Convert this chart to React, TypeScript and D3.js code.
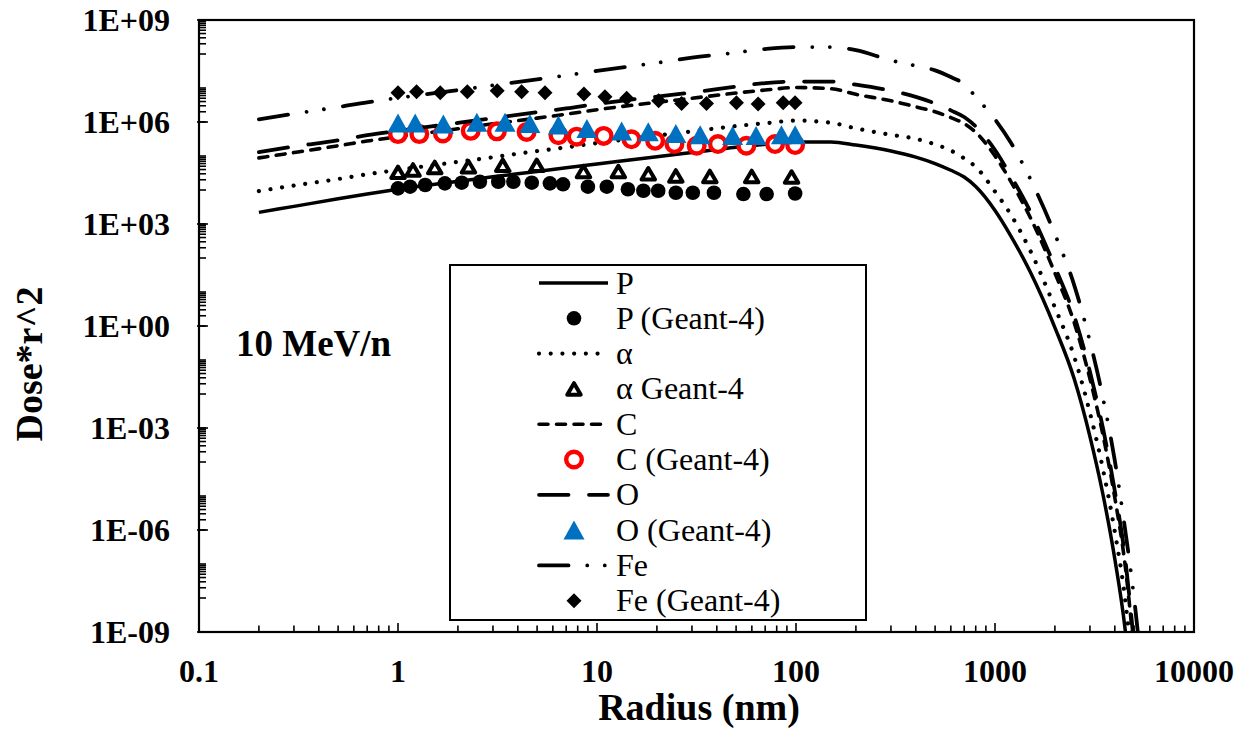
import React from 'react';
import * as d3 from 'd3';

// model curves, shared radius grid (nm)
const lineRadius = [0.2, 0.3, 0.5, 0.7, 1, 2, 3, 5, 7, 10, 20, 30, 50, 70, 100, 150, 200, 300, 400, 500, 600, 700, 800, 1000, 1200, 1500, 2000, 2500, 3000, 3500, 4000, 4500, 5000, 5500];
const pLine = [2.2e3, 3.3e3, 5.5e3, 7.6e3, 1.05e4, 1.8e4, 2.45e4, 3.5e4, 4.5e4, 5.8e4, 9.5e4, 1.26e5, 1.8e5, 2.2e5, 2.6e5, 2.6e5, 2.1e5, 1.4e5, 9.3e4, 6.0e4, 3.8e4, 2.4e4, 1.26e4, 2.5e3, 450, 40, 0.9, 2.8e-2, 5.6e-4, 1e-5, 1.4e-7, 1.3e-9, 2.5e-12, 3e-15];
const alphaLine = [9.3e3, 1.35e4, 2.1e4, 2.9e4, 3.9e4, 6.7e4, 9.2e4, 1.4e5, 1.8e5, 2.4e5, 4.0e5, 5.3e5, 7.6e5, 9.2e5, 1.1e6, 9.5e5, 6.5e5, 4.2e5, 3.2e5, 2.2e5, 1.45e5, 8.5e4, 4.8e4, 9e3, 1.9e3, 1.7e2, 3.5, 0.126, 2.8e-3, 5.6e-5, 8.9e-7, 1e-8, 2.5e-11, 3e-14];
const cLine = [8.8e4, 1.26e5, 2.0e5, 2.75e5, 3.7e5, 6.3e5, 8.9e5, 1.3e6, 1.7e6, 2.3e6, 3.8e6, 5.0e6, 7.1e6, 8.7e6, 1.03e7, 9.5e6, 6.5e6, 4.2e6, 2.8e6, 2.0e6, 1.35e6, 9.0e5, 5.0e5, 1.0e5, 1.8e4, 1.6e3, 36, 1.26, 0.028, 5.6e-4, 8.9e-6, 1e-7, 2.5e-10, 3e-13];
const oLine = [1.3e5, 1.9e5, 2.9e5, 4.1e5, 5.5e5, 9.4e5, 1.3e6, 1.95e6, 2.5e6, 3.4e6, 5.6e6, 7.4e6, 1.1e7, 1.4e7, 1.55e7, 1.55e7, 1.25e7, 8.3e6, 5.5e6, 3.5e6, 2.2e6, 1.4e6, 7.4e5, 1.5e5, 2.6e4, 2.4e3, 55, 2.0, 0.045, 8.9e-4, 1.4e-5, 1.6e-7, 4e-10, 5e-13];
const feLine = [1.2e6, 1.75e6, 2.75e6, 3.8e6, 5.1e6, 8.7e6, 1.2e7, 1.8e7, 2.35e7, 3.2e7, 5.5e7, 7.8e7, 1.1e8, 1.4e8, 1.6e8, 1.6e8, 1.3e8, 6.5e7, 4.5e7, 3.3e7, 2.1e7, 1.3e7, 5.5e6, 1.2e6, 2.5e5, 2.2e4, 5.0e2, 16, 0.35, 7e-3, 1.1e-4, 1.1e-6, 1e-8, 5e-11];

// Geant-4 points
const pG4Radius = [1.0, 1.15, 1.37, 1.72, 2.09, 2.58, 3.19, 3.8, 4.7, 5.8, 6.75, 9.0, 11.2, 14.3, 17.1, 20.3, 24.9, 30.3, 38.7, 54.4, 71.2, 99];
const pG4Dose = [1.12e4, 1.25e4, 1.4e4, 1.57e4, 1.64e4, 1.75e4, 1.75e4, 1.75e4, 1.64e4, 1.57e4, 1.47e4, 1.25e4, 1.25e4, 1.05e4, 9.5e3, 9.5e3, 8.3e3, 8.3e3, 8.3e3, 7.6e3, 7.6e3, 7.9e3];
const alphaG4Radius = [1.0, 1.19, 1.53, 2.26, 3.36, 4.98, 8.55, 12.8, 18.1, 24.9, 36.9, 59.9, 95];
const alphaG4Dose = [3.3e4, 3.9e4, 4.6e4, 4.8e4, 5.3e4, 5.3e4, 3.5e4, 3.5e4, 3.0e4, 2.6e4, 2.5e4, 2.5e4, 2.4e4];
const cG4Radius = [1.0, 1.28, 1.68, 2.32, 3.14, 4.43, 6.4, 7.9, 10.8, 14.9, 19.6, 24.5, 31.7, 40.5, 56.3, 78.5, 99];
const cG4Dose = [4.4e5, 4.4e5, 4.6e5, 5.5e5, 5.3e5, 5.1e5, 4.1e5, 3.7e5, 3.9e5, 3.1e5, 2.8e5, 2.25e5, 2.0e5, 2.25e5, 2.0e5, 2.25e5, 2.1e5];
const oG4Radius = [1.0, 1.22, 1.69, 2.49, 3.45, 4.6, 6.4, 8.9, 13.3, 18.1, 24.9, 33, 48, 63, 84.5, 99];
const oG4Dose = [9.4e5, 9.4e5, 8.8e5, 9.8e5, 9.8e5, 9.1e5, 8.1e5, 6.4e5, 5.4e5, 5.2e5, 4.6e5, 4.2e5, 4.0e5, 4.0e5, 4.2e5, 4.2e5];
const feG4Radius = [1.0, 1.24, 1.63, 2.23, 3.15, 4.18, 5.48, 8.6, 10.96, 14.1, 20.4, 26.6, 35.5, 50.2, 64.5, 86.2, 98.9];
const feG4Dose = [7.3e6, 7.8e6, 7.3e6, 7.8e6, 8.3e6, 7.8e6, 7.3e6, 6.7e6, 5.5e6, 5.0e6, 4.2e6, 3.5e6, 3.5e6, 3.7e6, 3.4e6, 3.7e6, 3.7e6];

const xTickValues = [0.1, 1, 10, 100, 1000, 10000];
const xTickLabels = ['0.1', '1', '10', '100', '1000', '10000'];
const yTickValues = [1e9, 1e6, 1e3, 1, 1e-3, 1e-6, 1e-9];
const yTickLabels = ['1E+09', '1E+06', '1E+03', '1E+00', '1E-03', '1E-06', '1E-09'];
const legendLabels = ['P', 'P (Geant-4)', 'α', 'α Geant-4', 'C', 'C (Geant-4)', 'O', 'O (Geant-4)', 'Fe', 'Fe (Geant-4)'];

const FONT = "'Times New Roman', 'Liberation Serif', serif";
const L = 199, R = 1194, T = 20, B = 632;

type Pt = [number, number];
const zip = (r: number[], v: number[]): Pt[] => r.map((d, i) => [d, v[i]]);

const lineStyles = [
  { dash: undefined, width: 3.5 },
  { dash: '0.01 11.7', width: 4.2 },
  { dash: '9 8.5', width: 3.6 },
  { dash: '29.5 20.5', width: 3.8 },
  { dash: '29.5 18.75 0.01 17.5 0.01 19.25', width: 3.8 },
];

function Marker({ kind, cx, cy }: { kind: string; cx: number; cy: number }) {
  if (kind === 'dot') return <circle cx={cx} cy={cy} r={7.3} fill="#000" />;
  if (kind === 'openTri') {
    const w = 13.5, h = 11.5;
    return <path d={`M${cx},${cy - h / 2}L${cx + w / 2},${cy + h / 2}L${cx - w / 2},${cy + h / 2}Z`} fill="#fff" stroke="#000" strokeWidth={4} strokeLinejoin="round" />;
  }
  if (kind === 'ring') return <circle cx={cx} cy={cy} r={7.8} fill="#fff" stroke="#FF0000" strokeWidth={4.4} />;
  if (kind === 'blueTri') {
    const w = 21, h = 19;
    return <path d={`M${cx},${cy - h / 2}L${cx + w / 2},${cy + h / 2}L${cx - w / 2},${cy + h / 2}Z`} fill="#0070C0" />;
  }
  const s = 7.5;
  return <path d={`M${cx},${cy - s}L${cx + s},${cy}L${cx},${cy + s}L${cx - s},${cy}Z`} fill="#000" />;
}

export default function App() {
  const x = d3.scaleLog().domain([0.1, 10000]).range([L, R]);
  const y = d3.scaleLog().domain([1e-9, 1e9]).range([B, T]);

  const line = d3.line<Pt>()
    .x(d => x(d[0]))
    .y(d => y(d[1]))
    .curve(d3.curveMonotoneX);

  const curves = [pLine, alphaLine, cLine, oLine, feLine].map(v => zip(lineRadius, v));
  const points = [
    { kind: 'dot', data: zip(pG4Radius, pG4Dose) },
    { kind: 'openTri', data: zip(alphaG4Radius, alphaG4Dose) },
    { kind: 'ring', data: zip(cG4Radius, cG4Dose) },
    { kind: 'blueTri', data: zip(oG4Radius, oG4Dose) },
    { kind: 'diamond', data: zip(feG4Radius, feG4Dose) },
  ];

  // x ticks: majors at decades, minors 2..9
  const xTicks = x.ticks();
  // y ticks: majors every 3 decades, minor decades as drawn in the source
  const yMinor: number[] = [];
  for (let e = -8; e <= 8; e += 2) {
    for (let k = 1; k <= 10; k++) yMinor.push(k * Math.pow(10, e));
  }

  const legendTop = 283, legendStep = 35.3;

  return (
    <svg width={1251} height={730} style={{ position: 'absolute', left: 0, top: 0, background: '#fff' }} fontFamily={FONT}>
      <defs>
        <clipPath id="plotClip">
          <rect x={L} y={T} width={R - L} height={B - T} />
        </clipPath>
      </defs>
      <rect width={1251} height={730} fill="#fff" />

      {/* ticks */}
      <g stroke="#000" strokeWidth={1.6}>
        {xTicks.map((t, i) => {
          const major = Math.abs(Math.log10(t) - Math.round(Math.log10(t))) < 1e-6;
          return <line key={'xt' + i} x1={x(t)} x2={x(t)} y1={B} y2={B - (major ? 9 : 6.5)} />;
        })}
        {yMinor.map((t, i) => (
          <line key={'ym' + i} x1={L} x2={L + 7} y1={y(t)} y2={y(t)} />
        ))}
        {yTickValues.map((t, i) => (
          <line key={'yM' + i} x1={L - 2} x2={L + 9} y1={y(t)} y2={y(t)} />
        ))}
      </g>

      {/* series */}
      <g clipPath="url(#plotClip)">
        {curves.map((c, i) => (
          <g key={'s' + i}>
            <path d={line(c) || ''} fill="none" stroke="#000" strokeWidth={lineStyles[i].width}
              strokeDasharray={lineStyles[i].dash} strokeLinecap={lineStyles[i].dash ? 'round' : 'butt'} />
            {points[i].data.map((d, j) => (
              <Marker key={j} kind={points[i].kind} cx={x(d[0])} cy={y(d[1])} />
            ))}
          </g>
        ))}
      </g>

      {/* frame */}
      <rect x={L} y={T} width={R - L} height={B - T} fill="none" stroke="#000" strokeWidth={2.2} />

      {/* tick labels */}
      <g fontSize={32} fontWeight="bold" fill="#000">
        {xTickValues.map((t, i) => (
          <text key={'xl' + i} x={x(t)} y={682} textAnchor="middle">{xTickLabels[i]}</text>
        ))}
        {yTickValues.map((t, i) => (
          <text key={'yl' + i} x={170} y={y(t) + 11} textAnchor="end">{yTickLabels[i]}</text>
        ))}
      </g>

      {/* axis titles */}
      <text x={699} y={720} textAnchor="middle" fontSize={38} fontWeight="bold">Radius (nm)</text>
      <text transform="translate(42,364) rotate(-90)" textAnchor="middle" fontSize={38} fontWeight="bold">Dose*r^2</text>
      <text x={236} y={356} fontSize={37} fontWeight="bold">10 MeV/n</text>

      {/* legend */}
      <rect x={450} y={265} width={416} height={355} fill="#fff" stroke="#000" strokeWidth={2} />
      {legendLabels.map((lab, i) => {
        const cy = legendTop + i * legendStep;
        const s = Math.floor(i / 2);
        return (
          <g key={'lg' + i}>
            {i % 2 === 0 ? (
              <line x1={539} x2={608} y1={cy} y2={cy} stroke="#000" strokeWidth={lineStyles[s].width}
                strokeDasharray={lineStyles[s].dash} strokeLinecap={lineStyles[s].dash ? 'round' : 'butt'} />
            ) : (
              <Marker kind={points[s].kind} cx={574} cy={cy} />
            )}
            <text x={616} y={cy + 10.5} fontSize={32}>{lab}</text>
          </g>
        );
      })}
    </svg>
  );
}
